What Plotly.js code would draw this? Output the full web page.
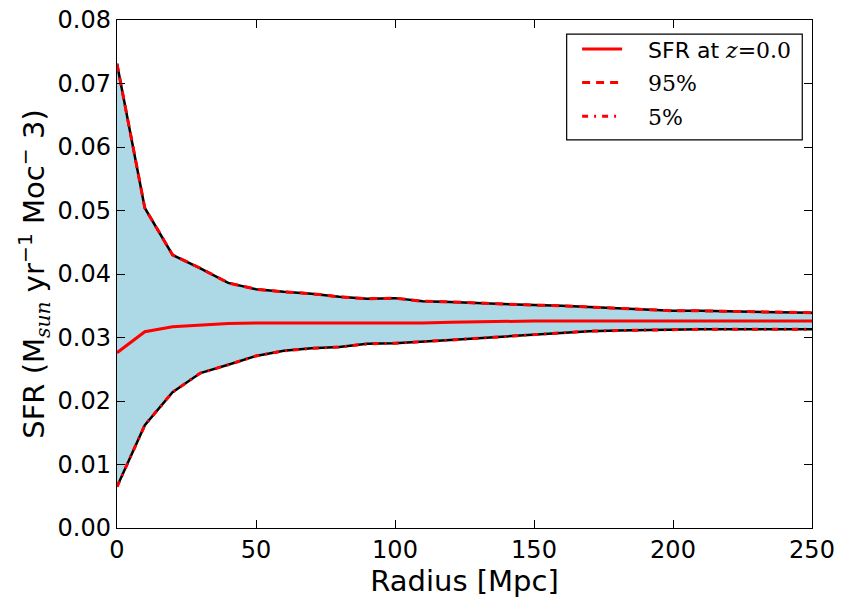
<!DOCTYPE html>
<html><head><meta charset="utf-8">
<script src="https://cdn.plot.ly/plotly-3.0.1.min.js"></script>
<style>html,body{margin:0;padding:0;background:#fff}</style>
</head><body><div id="chart" style="width:843px;height:601px"></div>
<script>
const radius = [0,10,20,30,40,50,60,70,80,90,100,110,120,130,140,150,160,170,180,190,200,210,220,230,240,250];
const sfrMedian = [0.0276,0.0309,0.0317,0.0320,0.0322,0.0323,0.0323,0.0323,0.0322,0.0322,0.0322,0.0323,0.0324,0.0325,0.0325,0.0326,0.0326,0.0326,0.0326,0.0326,0.0326,0.0326,0.0326,0.0326,0.0326,0.0326];
const sfr95 = [0.0731,0.0504,0.0430,0.0409,0.0386,0.0376,0.0372,0.0369,0.0364,0.0361,0.0362,0.0357,0.0356,0.0354,0.0353,0.0351,0.0350,0.0348,0.0346,0.0344,0.0342,0.0342,0.0341,0.0340,0.0340,0.0339];
const sfr5 = [0.0065,0.0162,0.0214,0.0244,0.0257,0.0271,0.0279,0.0283,0.0285,0.0290,0.0291,0.0293,0.0296,0.0299,0.0302,0.0305,0.0308,0.0310,0.0311,0.0312,0.0313,0.0313,0.0313,0.0313,0.0313,0.0313];
const xTicks = [0,50,100,150,200,250];
const yTicks = [0.00,0.01,0.02,0.03,0.04,0.05,0.06,0.07,0.08];

const serif = 'font-family:DejaVu Serif';
const pad = '\u00a0\u00a0\u00a0';
const traces = [
  {x: radius, y: sfr5, mode:'lines', line:{color:'black', width:2.5}, showlegend:false, hoverinfo:'skip'},
  {x: radius, y: sfr95, mode:'lines', line:{color:'black', width:2.5}, fill:'tonexty', fillcolor:'#add8e6', showlegend:false, hoverinfo:'skip'},
  {x: radius, y: sfrMedian, mode:'lines', name:pad+'SFR at <i style="'+serif+'">z</i><span style="'+serif+'">=0.0</span>', line:{color:'red', width:3}, legendrank:1, legendgroup:'a'},
  {x: radius, y: sfr95, mode:'lines', name:pad+'<span style="'+serif+'">95%</span>', line:{color:'red', width:3, dash:'8px,6px'}, legendrank:2, legendgroup:'b'},
  {x: radius, y: sfr5, mode:'lines', name:pad+'<span style="'+serif+'">5%</span>', line:{color:'red', width:3, dash:'6px,6px,2px,6px'}, legendrank:3, legendgroup:'c'}
];

const axisCommon = {
  showgrid:false, zeroline:false, showline:true, linecolor:'black', linewidth:1.2,
  mirror:'ticks', ticks:'inside', ticklen:8, tickwidth:1, tickcolor:'black',
  tickfont:{family:'DejaVu Sans', size:24, color:'black'}
};

const layout = {
  width:843, height:601,
  margin:{l:117, r:31, t:20, b:73},
  paper_bgcolor:'white', plot_bgcolor:'white',
  font:{family:'DejaVu Sans', color:'black'},
  xaxis: Object.assign({}, axisCommon, {
    range:[0,250], tickvals:xTicks, ticktext:xTicks.map(String),
    title:{text:'Radius [Mpc]', font:{size:29, family:'DejaVu Sans'}, standoff:2}
  }),
  yaxis: Object.assign({}, axisCommon, {
    range:[0,0.08], tickvals:yTicks, ticktext:yTicks.map(v=>v.toFixed(2)),
    title:{text:'SFR (M<sub><i style="'+serif+'">sun</i></sub> yr<sup>−1</sup> Moc<sup>−</sup> 3)', font:{size:29, family:'DejaVu Sans'}, standoff:4}
  }),
  shapes:[{type:'rect', xref:'paper', yref:'paper', x0:0.647, x1:0.986, y0:0.764, y1:0.972,
    line:{color:'black', width:1.2}, fillcolor:'rgba(0,0,0,0)', layer:'above'}],
  legend:{x:0.662, y:0.984, xanchor:'left', yanchor:'top', borderwidth:0,
    bgcolor:'rgba(0,0,0,0)', font:{size:22, family:'DejaVu Sans', color:'black'}, traceorder:'grouped', tracegroupgap:2, itemwidth:40},
  showlegend:true
};
Plotly.newPlot('chart', traces, layout, {displayModeBar:false, staticPlot:true});
</script></body></html>
